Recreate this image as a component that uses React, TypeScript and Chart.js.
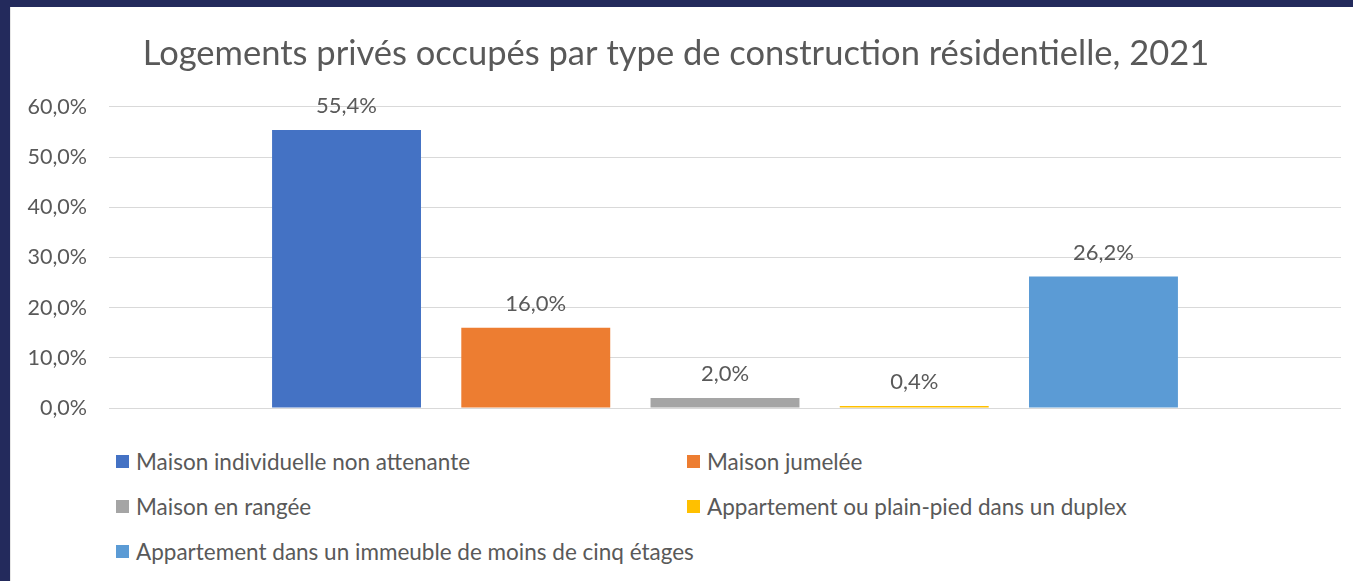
import React, { useEffect, useRef } from "react";
import { Chart, registerables } from "chart.js";

Chart.register(...registerables);

const TITLE = "Logements privés occupés par type de construction résidentielle, 2021";
const CATEGORIES = [""];
const SERIES_NAMES = [
  "Maison individuelle non attenante",
  "Maison jumelée",
  "Maison en rangée",
  "Appartement ou plain-pied dans un duplex",
  "Appartement dans un immeuble de moins de cinq étages",
];
const SERIES_VALUES = [55.4, 16.0, 2.0, 0.4, 26.2];
const SERIES_COLORS = ["#4472C4", "#ED7D31", "#A5A5A5", "#FFC000", "#5B9BD5"];
const Y_MIN = 0;
const Y_MAX = 60;
const Y_STEP = 10;

const FONT = "Lato, 'Open Sans', sans-serif";
const TEXT_COLOR = "#595959";

const fmt = (v: number) => v.toFixed(1).replace(".", ",") + "%";

const labelPlugin = {
  id: "barValueLabels",
  afterDatasetsDraw(chart: any) {
    const ctx = chart.ctx;
    ctx.save();
    ctx.font = `22px ${FONT}`;
    ctx.fillStyle = TEXT_COLOR;
    ctx.textAlign = "center";
    ctx.textBaseline = "middle";
    chart.data.datasets.forEach((ds: any, i: number) => {
      const meta = chart.getDatasetMeta(i);
      meta.data.forEach((bar: any, j: number) => {
        ctx.fillText(fmt(ds.data[j]), bar.x, bar.y - 24);
      });
    });
    ctx.restore();
  },
};

const CANVAS_W = 1343;
const CANVAS_H = 436;

export default function App() {
  const ref = useRef<HTMLCanvasElement | null>(null);

  useEffect(() => {
    if (!ref.current) return;
    const chart = new Chart(ref.current, {
      type: "bar",
      data: {
        labels: CATEGORIES,
        datasets: SERIES_NAMES.map((name, i) => ({
          label: name,
          data: [SERIES_VALUES[i]],
          backgroundColor: SERIES_COLORS[i],
          borderWidth: 0,
          categoryPercentage: 0.768,
          barPercentage: 0.787,
        })),
      },
      options: {
        responsive: false,
        animation: false,
        layout: { padding: { left: 0, right: 13, top: 0, bottom: 18 } },
        plugins: {
          legend: { display: false },
          tooltip: { enabled: false },
          title: {
            display: true,
            text: TITLE,
            color: TEXT_COLOR,
            font: { family: FONT, size: 34.5, weight: "normal" },
            padding: { top: 26, bottom: 32.5 },
          },
        },
        scales: {
          x: { display: false },
          y: {
            min: Y_MIN,
            max: Y_MAX,
            border: { display: false },
            grid: { color: "#d9d9d9", lineWidth: 1, drawTicks: false },
            ticks: {
              stepSize: Y_STEP,
              padding: 22,
              color: TEXT_COLOR,
              font: { family: FONT, size: 21.5 },
              callback: (v: any) => fmt(Number(v)),
            },
            afterFit: (scale: any) => {
              scale.width = 98;
            },
          },
        },
      },
      plugins: [labelPlugin],
    });
    return () => chart.destroy();
  }, []);

  const colX = [105, 676];
  const rowY = [454, 499, 544];

  return (
    <div
      style={{
        position: "fixed",
        left: 0,
        top: 0,
        width: 1353,
        height: 581,
        background: "#232a5c",
        overflow: "hidden",
      }}
    >
      <div
        style={{
          position: "absolute",
          left: 10,
          top: 7,
          width: CANVAS_W,
          height: 574,
          background: "#ffffff",
          borderLeft: "1px solid #e6e6e6",
          boxSizing: "border-box",
        }}
      >
        <canvas
          ref={ref}
          width={CANVAS_W}
          height={CANVAS_H}
          style={{ position: "absolute", left: 0, top: 0, width: CANVAS_W, height: CANVAS_H }}
        />
        {SERIES_NAMES.map((name, i) => (
          <div
            key={name}
            style={{
              position: "absolute",
              left: colX[i % 2],
              top: rowY[Math.floor(i / 2)] - 15,
              height: 30,
              display: "flex",
              alignItems: "center",
              whiteSpace: "nowrap",
              fontFamily: FONT,
              fontSize: 22.5,
              color: TEXT_COLOR,
            }}
          >
            <span
              style={{
                display: "inline-block",
                width: 13,
                height: 13,
                background: SERIES_COLORS[i],
                marginRight: 7,
              }}
            />
            <span>{name}</span>
          </div>
        ))}
      </div>
    </div>
  );
}
